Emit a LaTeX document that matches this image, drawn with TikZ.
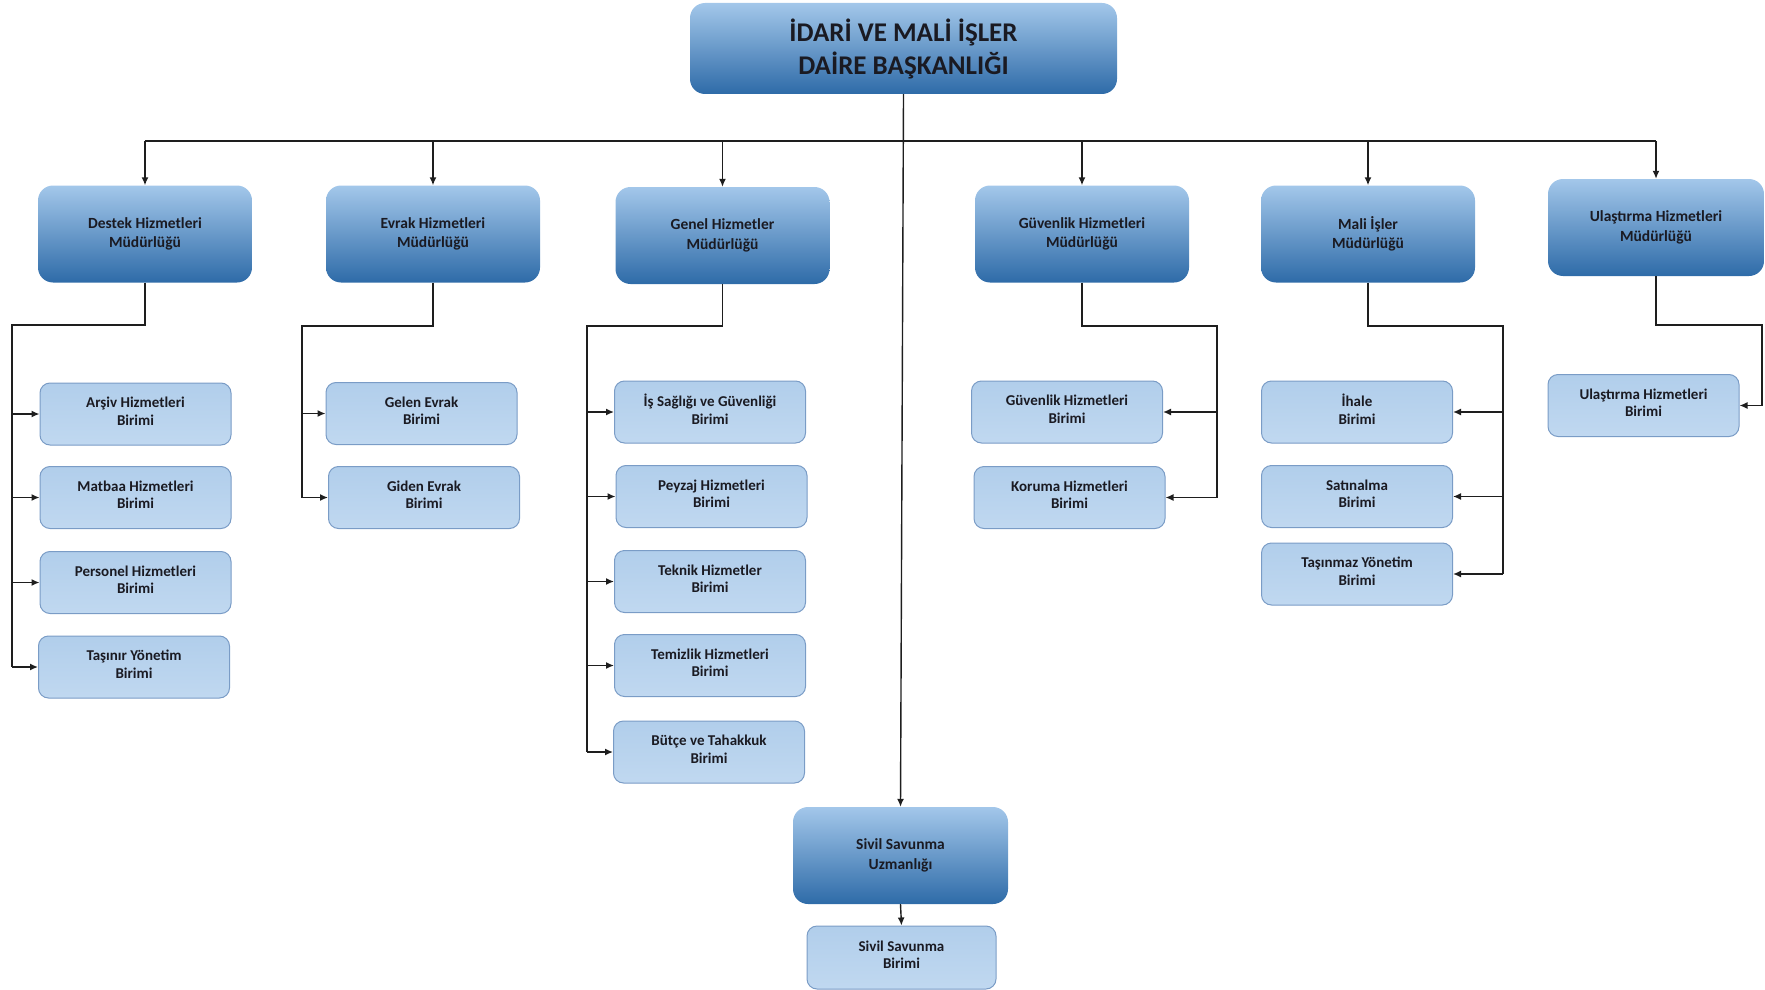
\documentclass[tikz,border=0pt]{standalone}
\usepackage{fontspec}
\setmainfont{Carlito}
\usetikzlibrary{arrows.meta}
\definecolor{bigtop}{HTML}{A3C7EA}
\definecolor{bigmid}{HTML}{6AA3DA}
\definecolor{bigbot}{HTML}{2E6BA8}
\definecolor{smtop}{HTML}{B1CEEB}
\definecolor{smmid}{HTML}{D6E7F6}
\definecolor{smbot}{HTML}{C0D8F0}
\definecolor{smedge}{HTML}{7A9CC6}
\definecolor{txt}{HTML}{1A1A22}
\definecolor{ln}{HTML}{1E1E1E}
\tikzset{
  bigbox/.style={rounded corners=15pt, top color=bigtop, middle color=bigmid, bottom color=bigbot, draw=none,
    minimum width=214pt, minimum height=97pt, inner sep=0pt, align=center, text=txt,
    font=\bfseries\fontsize{15.5}{19.5}\selectfont},
  titlebox/.style={bigbox, minimum width=427pt, minimum height=91pt, font=\bfseries\fontsize{27}{33}\selectfont},
  smbox/.style={rounded corners=10pt, top color=smtop, middle color=smmid, bottom color=smbot, draw=smedge, line width=1pt,
    minimum width=191pt, minimum height=62pt, inner sep=0pt, align=center, text=txt, text depth=6pt,
    font=\bfseries\fontsize{15}{17.5}\selectfont},
  conn/.style={draw=ln, line width=1.4pt},
  arr/.style={conn, -{Latex[length=8pt,width=7pt]}}
}
\begin{document}
\begin{tikzpicture}[x=1pt,y=-1pt]
\useasboundingbox (0,0) rectangle (1765,990);
% top
\node[titlebox] (top) at (903.5,48.5) {İDARİ VE MALİ İŞLER\\DAİRE BAŞKANLIĞI};
% level 2
\node[bigbox] (destek) at (145,234) {Destek Hizmetleri\\Müdürlüğü};
\node[bigbox] (evrak) at (433,234) {Evrak Hizmetleri\\Müdürlüğü};
\node[bigbox] (genel) at (722.5,235.5) {Genel Hizmetler\\Müdürlüğü};
\node[bigbox] (guv) at (1082,234) {Güvenlik Hizmetleri\\Müdürlüğü};
\node[bigbox] (mali) at (1368,234) {Mali İşler\\Müdürlüğü};
\node[bigbox, minimum width=216pt] (ulas) at (1656,227.5) {Ulaştırma Hizmetleri\\Müdürlüğü};
\node[bigbox, minimum width=215pt] (sivil) at (900.5,855.5) {Sivil Savunma\\Uzmanlığı};
% units
\node[smbox] (arsiv) at (135.5,414) {Arşiv Hizmetleri\\Birimi};
\node[smbox] (matbaa) at (135.5,497.5) {Matbaa  Hizmetleri\\Birimi};
\node[smbox] (personel) at (135.5,582.5) {Personel Hizmetleri\\Birimi};
\node[smbox] (tasinir) at (134,667) {Taşınır  Yönetim\\Birimi};
\node[smbox] (gelen) at (421.5,413.5) {Gelen Evrak\\Birimi};
\node[smbox] (giden) at (424,497.5) {Giden Evrak\\Birimi};
\node[smbox] (isg) at (710,412) {İş Sağlığı  ve Güvenliği\\Birimi};
\node[smbox] (peyzaj) at (711.5,496.5) {Peyzaj Hizmetleri\\Birimi};
\node[smbox] (teknik) at (710,581.5) {Teknik  Hizmetler\\Birimi};
\node[smbox] (temiz) at (710,665.5) {Temizlik  Hizmetleri\\Birimi};
\node[smbox] (butce) at (709,752) {Bütçe ve Tahakkuk\\Birimi};
\node[smbox] (guvb) at (1067,412) {Güvenlik  Hizmetleri\\Birimi};
\node[smbox] (koruma) at (1069.5,497.5) {Koruma Hizmetleri\\Birimi};
\node[smbox] (ihale) at (1357,412) {İhale\\Birimi};
\node[smbox] (satin) at (1357,496.5) {Satınalma\\Birimi};
\node[smbox] (tasinmaz) at (1357,574) {Taşınmaz  Yönetim\\Birimi};
\node[smbox] (ulasb) at (1643.5,405.5) {Ulaştırma  Hizmetleri\\Birimi};
\node[smbox, minimum width=189pt, minimum height=63pt] (sivilb) at (901.5,957.5) {Sivil Savunma\\Birimi};
% bus coordinates
\coordinate (bus) at (903.5,141);
\coordinate (dbus) at (12,325);
\coordinate (ebus) at (302,326);
\coordinate (gbus) at (587,326);
\coordinate (gvbus) at (1217,326);
\coordinate (mbus) at (1503,326);
\coordinate (ubus) at (1762,325);
% top connectors
\draw[conn] (top.south) -- (bus);
\draw[conn] (bus -| destek.north) -- (bus -| ulas.north);
\foreach \n in {destek,evrak,genel,guv,mali,ulas}
  \draw[arr] (bus -| \n.north) -- (\n.north);
\draw[arr] (top.south) -- (sivil.north);
\draw[arr] (sivil.south) -- (sivilb.north);
% destek
\draw[conn] (destek.south) |- (dbus) -- (dbus |- tasinir.west);
\foreach \n in {arsiv,matbaa,personel,tasinir}
  \draw[arr] (dbus |- \n.west) -- (\n.west);
% evrak
\draw[conn] (evrak.south) |- (ebus) -- (ebus |- giden.west);
\foreach \n in {gelen,giden}
  \draw[arr] (ebus |- \n.west) -- (\n.west);
% genel
\draw[conn] (genel.south) |- (gbus) -- (gbus |- butce.west);
\foreach \n in {isg,peyzaj,teknik,temiz,butce}
  \draw[arr] (gbus |- \n.west) -- (\n.west);
% guvenlik
\draw[conn] (guv.south) |- (gvbus) -- (gvbus |- koruma.east);
\foreach \n in {guvb,koruma}
  \draw[arr] (gvbus |- \n.east) -- (\n.east);
% mali
\draw[conn] (mali.south) |- (mbus) -- (mbus |- tasinmaz.east);
\foreach \n in {ihale,satin,tasinmaz}
  \draw[arr] (mbus |- \n.east) -- (\n.east);
% ulastirma
\draw[conn] (ulas.south) |- (ubus) -- (ubus |- ulasb.east);
\draw[arr] (ubus |- ulasb.east) -- (ulasb.east);
\end{tikzpicture}
\end{document}
